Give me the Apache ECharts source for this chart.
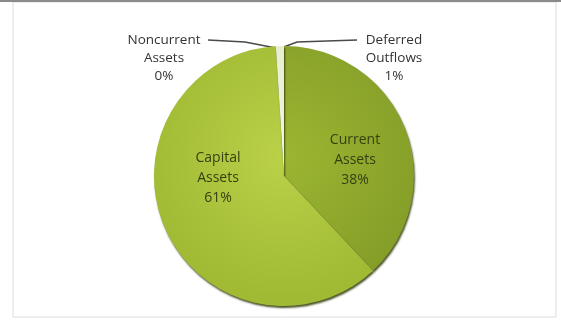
<!DOCTYPE html>
<html>
<head>
<meta charset="utf-8">
<script src="https://cdn.jsdelivr.net/npm/echarts@6/dist/echarts.min.js"></script>
<style>
  html, body { margin: 0; padding: 0; background: #ffffff; }
  #chart { width: 561px; height: 321px; }
</style>
</head>
<body>
<div id="chart"></div>
<script>
// Statement of net position: share of assets and deferred outflows
const categories = ['Current Assets', 'Capital Assets', 'Noncurrent Assets', 'Deferred Outflows'];
const percents = [38, 61, 0, 1];

const CX = 284, CY = 176, R = 130;

function radial(inner, outer) {
  return new echarts.graphic.RadialGradient(CX, CY - 20, R * 1.1, [
    { offset: 0, color: inner },
    { offset: 1, color: outer }
  ], true);
}

const fills = [
  radial('#9cb632', '#859e28'),
  radial('#bad148', '#a0ba34'),
  radial('#c9d98a', '#b4c66a'),
  radial('#f2f5e4', '#e4ebc9')
];

// label anchors (x, y) and leader line routes
const labelSpots = [
  { x: 355, y: 160 },
  { x: 218, y: 178 },
  { x: 164, y: 58, line: [[208, 40], [245, 42], [276, 48]] },
  { x: 394, y: 58, line: [[357, 40], [297, 42], [281, 48]] }
];

const chart = echarts.init(document.getElementById('chart'), null, { renderer: 'canvas' });

chart.setOption({
  animation: false,
  backgroundColor: '#ffffff',
  graphic: [
    { type: 'rect', shape: { x: 13, y: 2, width: 543, height: 315 },
      style: { fill: 'none', stroke: '#dcdcdc', lineWidth: 1 }, silent: true },
    { type: 'line', shape: { x1: 0, y1: 1, x2: 561, y2: 1 },
      style: { stroke: '#8a8a8a', lineWidth: 2 }, silent: true }
  ],
  series: [{
    type: 'pie',
    center: [CX, CY],
    radius: [0, R],
    startAngle: 90,
    clockwise: true,
    minShowLabelAngle: 0,
    avoidLabelOverlap: false,
    itemStyle: {
      borderWidth: 0,
      shadowColor: 'rgba(45,55,5,0.85)',
      shadowBlur: 2,
      shadowOffsetX: 1,
      shadowOffsetY: 2
    },
    label: {
      show: true,
      position: 'outside',
      fontFamily: '"Open Sans", sans-serif',
      fontSize: 13.5,
      lineHeight: 18,
      color: '#333333',
      align: 'center',
      formatter: p => p.name.replace(' ', '\n') + '\n' + p.value + '%'
    },
    labelLine: {
      show: true,
      lineStyle: { color: '#4a4a4a', width: 1.5 }
    },
    labelLayout: p => {
      const s = labelSpots[p.dataIndex];
      const out = { x: s.x, y: s.y, align: 'center', verticalAlign: 'middle' };
      if (s.line) out.labelLinePoints = s.line;
      return out;
    },
    data: categories.map((name, i) => ({
      name: name,
      value: percents[i],
      itemStyle: { color: fills[i] },
      label: i < 2 ? { position: 'inside', color: '#354012', fontSize: 14, lineHeight: 20 } : {},
      labelLine: i < 2 ? { show: false } : {}
    }))
  }]
});
</script>
</body>
</html>
